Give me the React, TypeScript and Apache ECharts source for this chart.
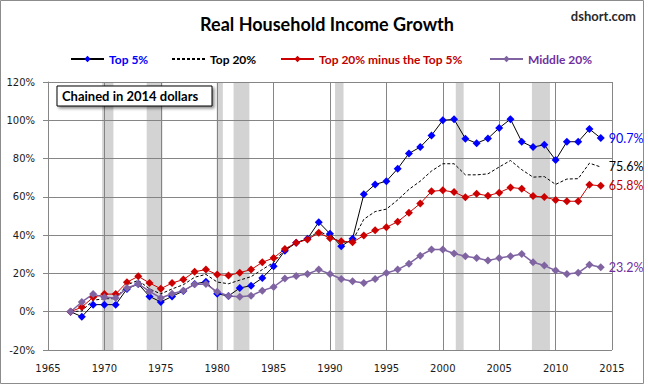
import React, { useEffect, useRef } from "react";
import * as echarts from "echarts";

const startYear = 1967;

const top5: number[] = [
  0, -2.6, 3.7, 3.7, 3.7, 11.9, 14.5, 8.0, 5.1, 8.0, 10.8, 14.5, 15.7, 9.4, 8.2, 12.4,
  13.6, 17.6, 23.7, 31.9, 36.0, 38.1, 46.8, 40.7, 34.2, 38.1, 61.3, 66.5, 68.2, 74.7,
  82.7, 86.0, 92.1, 100.0, 100.5, 90.4, 88.0, 90.5, 96.0, 100.6, 88.8, 86.0, 87.2, 79.2,
  88.8, 88.8, 95.4, 90.7,
];
const top20: number[] = [
  0, 0.4, 6.0, 6.8, 6.8, 14.0, 16.4, 11.9, 9.3, 11.9, 14.1, 18.0, 19.5, 15.5, 14.6, 16.5,
  18.3, 22.0, 25.8, 32.5, 36.0, 38.0, 42.0, 39.4, 36.0, 37.1, 48.3, 52.3, 53.6, 58.4,
  63.9, 68.2, 73.5, 77.3, 77.3, 71.5, 71.5, 72.0, 75.6, 79.0, 74.2, 70.3, 70.6, 66.5,
  69.3, 69.5, 77.6, 75.6,
];
const top20ex5: number[] = [
  0, 2.4, 7.5, 9.2, 9.2, 15.4, 18.5, 15.0, 12.0, 15.0, 16.8, 20.9, 22.0, 19.4, 18.9, 20.4,
  22.0, 25.8, 28.1, 32.8, 36.0, 37.7, 41.2, 38.4, 36.8, 36.3, 39.8, 42.5, 44.1, 47.0,
  51.7, 56.5, 62.9, 63.4, 62.5, 59.8, 61.6, 60.6, 62.2, 64.9, 64.3, 60.4, 59.9, 58.4,
  57.7, 57.7, 66.3, 65.8,
];
const mid20: number[] = [
  0, 5.1, 9.2, 7.5, 7.2, 12.4, 14.5, 10.6, 7.2, 9.4, 11.0, 14.3, 14.5, 10.4, 8.2, 7.8,
  8.4, 11.0, 12.9, 17.3, 18.7, 19.7, 22.0, 19.7, 17.1, 15.9, 15.0, 17.1, 20.2, 22.0,
  25.1, 29.3, 32.5, 32.5, 30.4, 29.0, 28.1, 26.8, 28.0, 29.0, 30.2, 25.8, 24.1, 21.5,
  19.7, 20.3, 24.5, 23.2,
];
const recessions: [number, number][] = [
  [1969.8, 1970.8],
  [1973.75, 1975.15],
  [1979.95, 1980.5],
  [1981.45, 1982.85],
  [1990.45, 1991.2],
  [2001.15, 2001.85],
  [2007.9, 2009.5],
];
const yTicks = { min: -20, max: 120, step: 20 };
const xTicks = { min: 1965, max: 2015, step: 5 };

const LBL_FONT = "DejaVu Sans";
const CAL = "Lato";

function mkSeries(
  name: string,
  vals: number[],
  markerColor: string,
  lineColor: string,
  lineWidth: number,
  labelColor: string,
  showMarker: boolean,
  dashed: boolean
) {
  const last = vals.length - 1;
  return {
    name,
    type: "line",
    symbol: showMarker ? "diamond" : "none",
    symbolSize: 8,
    showSymbol: showMarker,
    itemStyle: { color: markerColor },
    lineStyle: {
      color: lineColor,
      width: lineWidth,
      type: dashed ? [3, 2] : "solid",
    },
    z: 3,
    endLabel: {
      show: true,
      distance: 8,
      formatter: vals[last].toFixed(1) + "%",
      color: labelColor,
      fontFamily: CAL,
      fontSize: 12.5,
    },
    data: vals.map((v, i) => [startYear + i, v]),
  };
}

export default function App() {
  const ref = useRef<HTMLDivElement>(null);
  useEffect(() => {
    document.body.style.margin = "0";
    const chart = echarts.init(ref.current!, null, { renderer: "svg" });
    const legendBase = {
      top: 48,
      itemWidth: 33,
      itemHeight: 8,
      itemGap: 4,
      selectedMode: false,
      textStyle: { fontFamily: CAL, fontWeight: "bold", fontSize: 12 },
    };
    chart.setOption({
      animation: false,
      backgroundColor: "#fff",
      title: {
        text: "Real Household Income Growth",
        left: 322,
        textAlign: "center",
        top: 10,
        textStyle: { fontFamily: CAL, fontWeight: "bold", fontSize: 18, color: "#000" },
      },
      legend: [
        { ...legendBase, left: 65, data: [{ name: "Top 5%", textStyle: { color: "#0000FF" } }] },
        {
          ...legendBase,
          left: 166,
          data: [{ name: "Top 20%", itemStyle: { opacity: 0 }, textStyle: { color: "#000" } }],
        },
        {
          ...legendBase,
          left: 275,
          data: [{ name: "Top 20% minus the Top 5%", textStyle: { color: "#C00000" } }],
        },
        { ...legendBase, left: 484, data: [{ name: "Middle 20%", textStyle: { color: "#7030A0" } }] },
      ],
      grid: { left: 48, top: 82, width: 564, height: 268, containLabel: false },
      xAxis: {
        type: "value",
        min: xTicks.min,
        max: xTicks.max,
        interval: xTicks.step,
        axisLine: { show: true, lineStyle: { color: "#868686" } },
        axisTick: { show: true, length: 4, lineStyle: { color: "#868686" } },
        splitLine: { show: true, lineStyle: { color: "#868686", width: 1 } },
        axisLabel: {
          fontFamily: LBL_FONT,
          fontSize: 10,
          color: "#1a1a1a",
          margin: 13,
          formatter: (v: number) => String(v),
        },
      },
      yAxis: {
        type: "value",
        min: yTicks.min,
        max: yTicks.max,
        interval: yTicks.step,
        axisLine: { show: true, lineStyle: { color: "#868686" } },
        axisTick: { show: true, length: 5, lineStyle: { color: "#868686" } },
        splitLine: { show: true, lineStyle: { color: "#868686", width: 1 } },
        axisLabel: {
          fontFamily: LBL_FONT,
          fontSize: 10,
          color: "#1a1a1a",
          margin: 13,
          formatter: "{value}%",
        },
      },
      graphic: [
        {
          type: "rect",
          silent: true,
          z: -10,
          shape: { x: 0.5, y: 0.5, width: 643, height: 383 },
          style: { fill: "none", stroke: "#8c8c8c", lineWidth: 1 },
        },
        {
          type: "text",
          silent: true,
          x: 636,
          y: 16,
          style: {
            text: "dshort.com",
            align: "right",
            verticalAlign: "middle",
            fontFamily: CAL,
            fontWeight: "bold",
            fontSize: 13,
            fill: "#2a2a2a",
          },
        },
        {
          type: "rect",
          z: 100,
          shape: { x: 57, y: 86, width: 155, height: 20 },
          style: {
            fill: "#fff",
            stroke: "#000",
            lineWidth: 1,
            shadowBlur: 3,
            shadowOffsetX: 2,
            shadowOffsetY: 2,
            shadowColor: "rgba(0,0,0,0.45)",
          },
        },
        {
          type: "text",
          z: 101,
          x: 62,
          y: 96,
          style: {
            text: "Chained in 2014 dollars",
            verticalAlign: "middle",
            fontFamily: CAL,
            fontWeight: "bold",
            fontSize: 13,
            fill: "#000",
          },
        },
      ],
      series: [
        {
          name: "recessions",
          type: "custom",
          z: 1,
          silent: true,
          data: recessions,
          renderItem: (_params: any, api: any) => {
            const p0 = api.coord([api.value(0), yTicks.max]);
            const p1 = api.coord([api.value(1), yTicks.min]);
            return {
              type: "rect",
              shape: { x: p0[0], y: p0[1], width: p1[0] - p0[0], height: p1[1] - p0[1] },
              style: { fill: "rgba(128,128,128,0.35)" },
            };
          },
        },
        mkSeries("Top 5%", top5, "#0000FF", "#000", 1, "#0000FF", true, false),
        mkSeries("Top 20%", top20, "#000", "#000", 1, "#000", false, true),
        mkSeries("Top 20% minus the Top 5%", top20ex5, "#CC0000", "#CC0000", 1, "#C00000", true, false),
        mkSeries("Middle 20%", mid20, "#8064A2", "#8064A2", 1.5, "#7030A0", true, false),
      ],
    });
    return () => chart.dispose();
  }, []);
  return <div ref={ref} style={{ width: 648, height: 385 }} />;
}
